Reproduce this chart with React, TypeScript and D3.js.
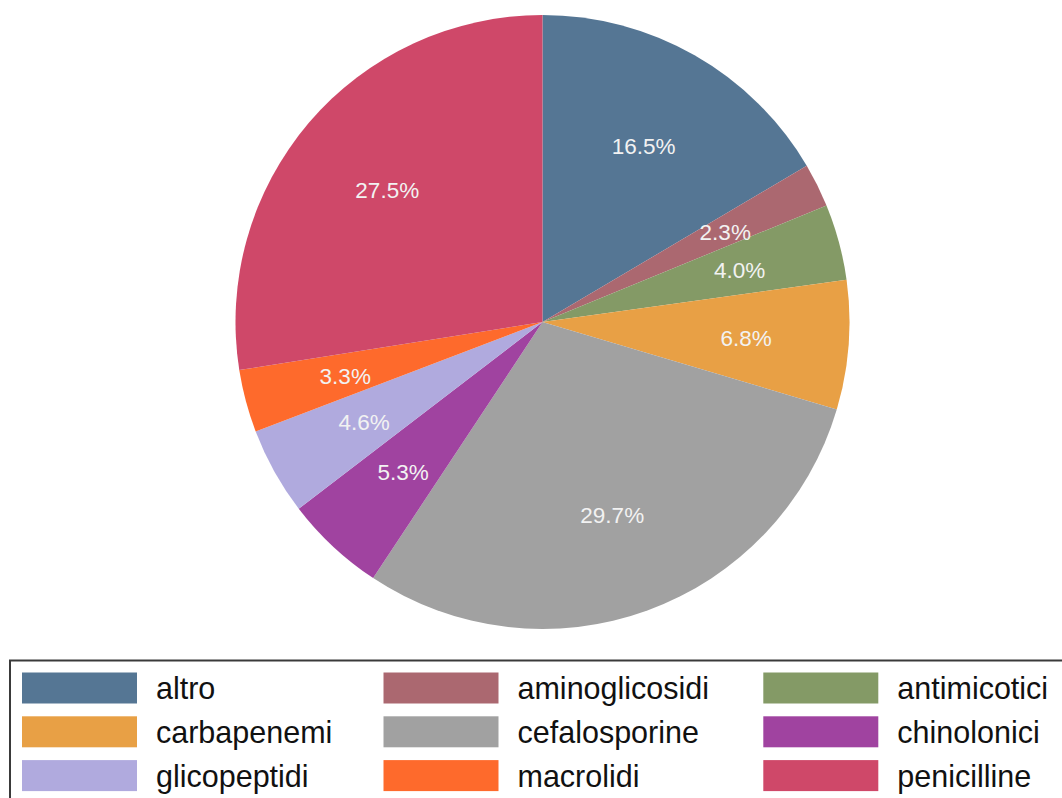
import React from "react";
import * as d3 from "d3";

const categories = ["altro", "aminoglicosidi", "antimicotici", "carbapenemi", "cefalosporine", "chinolonici", "glicopeptidi", "macrolidi", "penicilline"];
const values = [16.5, 2.3, 4.0, 6.8, 29.7, 5.3, 4.6, 3.3, 27.5];
const colors = ["#557694", "#ab6870", "#849a66", "#e8a045", "#a1a1a1", "#a043a0", "#b0aade", "#fe6a2c", "#cf4869"];

const W = 1062;
const H = 798;
const cx = 542.5;
const cy = 322;
const R = 307;
const legendColX = [22, 383.5, 763.3];

export default function App() {
  const pie = d3.pie<number>().sort(null).value((d) => d);
  const arcs = pie(values);
  const arcGen = d3.arc<d3.PieArcDatum<number>>().innerRadius(0).outerRadius(R);
  const labelArc = d3.arc<d3.PieArcDatum<number>>().innerRadius(R * 0.665).outerRadius(R * 0.665);
  const font = "'Liberation Sans', Arial, sans-serif";

  const rowY = d3.scaleLinear().domain([0, 1]).range([672.5, 716.3]);

  return (
    <svg width={W} height={H} style={{ position: "absolute", left: 0, top: 0, background: "#fff" }}>
      <g transform={`translate(${cx},${cy})`}>
        {arcs.map((a, i) => (
          <path key={i} d={arcGen(a) || ""} fill={colors[i]} />
        ))}
        {arcs.map((a, i) => {
          const [x, y] = labelArc.centroid(a);
          return (
            <text key={i} x={x} y={y + 1.5} textAnchor="middle" dominantBaseline="central" fill="#f2f2f2" fontFamily={font} fontSize={22.5}>
              {values[i].toFixed(1)}%
            </text>
          );
        })}
      </g>
      <rect x={10} y={660.5} width={1100} height={200} fill="none" stroke="#3a3a3a" strokeWidth={2} />
      {categories.map((c, i) => {
        const col = i % 3;
        const row = Math.floor(i / 3);
        const x = legendColX[col];
        const y = rowY(row);
        return (
          <g key={c}>
            <rect x={x} y={y} width={115} height={31} fill={colors[i]} />
            <text x={x + 134} y={y + 15.5} dominantBaseline="central" fill="#111" fontFamily={font} fontSize={30.5}>
              {c}
            </text>
          </g>
        );
      })}
    </svg>
  );
}
